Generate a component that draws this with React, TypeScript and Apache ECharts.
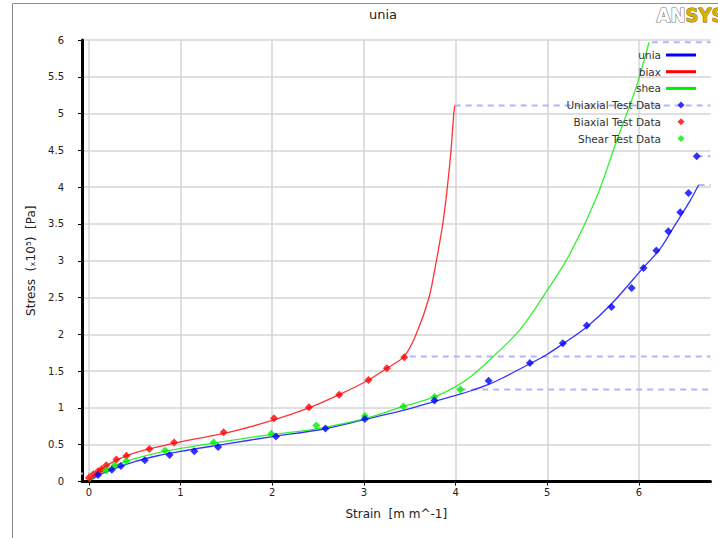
import React, { useEffect, useRef } from "react";
import * as echarts from "echarts";

// Fitted curves (strain, stress x1e5)
const uniaCurve: [number, number][] = [
  [0, 0], [0.1, 0.08], [0.25, 0.16], [0.5, 0.27], [0.75, 0.35], [1.0, 0.41],
  [1.5, 0.51], [2.0, 0.61], [2.5, 0.70], [3.0, 0.84], [3.5, 0.99], [3.77, 1.09],
  [4.0, 1.17], [4.16, 1.23], [4.36, 1.32], [4.5, 1.40], [4.81, 1.60], [5.0, 1.73],
  [5.17, 1.87], [5.43, 2.10], [5.72, 2.44], [6.05, 2.91], [6.23, 3.16], [6.4, 3.50],
  [6.55, 3.80], [6.65, 4.03],
];
const biaxCurve: [number, number][] = [
  [0, 0], [0.05, 0.08], [0.1, 0.14], [0.2, 0.22], [0.3, 0.29], [0.5, 0.39],
  [0.75, 0.47], [1.0, 0.54], [1.5, 0.66], [2.0, 0.83], [2.4, 1.0], [2.73, 1.18],
  [3.05, 1.38], [3.25, 1.54], [3.44, 1.70], [3.57, 2.0], [3.71, 2.5], [3.79, 3.0],
  [3.86, 3.5], [3.91, 4.0], [3.95, 4.5], [3.98, 5.0], [3.99, 5.11],
];
const sheaCurve: [number, number][] = [
  [0, 0], [0.1, 0.1], [0.25, 0.2], [0.5, 0.31], [0.75, 0.39], [1.0, 0.45],
  [1.5, 0.55], [2.0, 0.64], [2.5, 0.72], [3.0, 0.85], [3.43, 1.02], [3.77, 1.15],
  [4.0, 1.29], [4.16, 1.42], [4.37, 1.65], [4.7, 2.06], [4.99, 2.58], [5.25, 3.1],
  [5.54, 3.87], [5.76, 4.64], [5.97, 5.36], [6.11, 5.97],
];

// Test data
const uniaxialData: [number, number][] = [
  [0.1, 0.09], [0.25, 0.16], [0.35, 0.21], [0.61, 0.29], [0.88, 0.36], [1.15, 0.41],
  [1.41, 0.47], [2.04, 0.61], [2.58, 0.72], [3.01, 0.85], [3.77, 1.10], [4.36, 1.37],
  [4.81, 1.61], [5.17, 1.88], [5.43, 2.12], [5.70, 2.37], [5.92, 2.63], [6.05, 2.90],
  [6.19, 3.14], [6.32, 3.40], [6.45, 3.66], [6.54, 3.92], [6.63, 4.42],
];
const biaxialData: [number, number][] = [
  [0.0, 0.05], [0.05, 0.10], [0.1, 0.14], [0.14, 0.17], [0.19, 0.22], [0.30, 0.30],
  [0.41, 0.35], [0.66, 0.44], [0.93, 0.53], [1.47, 0.67], [2.02, 0.86], [2.40, 1.01],
  [2.73, 1.18], [3.05, 1.38], [3.25, 1.54], [3.44, 1.69],
];
const shearData: [number, number][] = [
  [0.19, 0.15], [0.28, 0.22], [0.41, 0.28], [0.83, 0.42], [1.36, 0.53], [1.99, 0.65],
  [2.48, 0.76], [3.01, 0.89], [3.43, 1.02], [3.77, 1.15], [4.05, 1.25],
];

// Dashed extrapolation limits
const limitLevels = [5.97, 5.11, 4.42, 4.03, 1.70, 1.25];
const limitStarts = [6.14, 3.99, 6.63, 6.65, 3.50, 4.05];
const lowLimit: [number, number][] = [[-0.13, 0.11], [0.02, 0.11]];

const xTicks = [0, 1, 2, 3, 4, 5, 6];
const X_MIN = -0.075;
const X_MAX = 6.78;

const FONT = "DejaVu Sans";
const LINE_ICON = "path://M0,0 M30,8 M0,2.5 L30,2.5 L30,5.5 L0,5.5 Z";
const DIAMOND_ICON = "path://M0,0 M30,8 M15,0.5 L18.5,4 L15,7.5 L11.5,4 Z";

export default function App() {
  const ref = useRef<HTMLDivElement>(null);
  useEffect(() => {
    const chart = echarts.init(ref.current!, null, { renderer: "svg" });
    const dashStyle = { color: "#b4b4ff", width: 2, type: [6, 5] as number[] };
    const limitSeries = limitLevels.map((y, i) => ({
      type: "line",
      name: "limit" + i,
      data: [[limitStarts[i], y], [X_MAX, y]],
      symbol: "none",
      silent: true,
      lineStyle: dashStyle,
      z: 1,
    }));
    const curve = (name: string, data: [number, number][], color: string) => ({
      type: "line", name, data, symbol: "none", smooth: 0.3,
      color, lineStyle: { width: 1.3, opacity: 0.8 }, z: 3,
    });
    const dots = (name: string, data: [number, number][], color: string, z: number) => ({
      type: "scatter", name, data, symbol: "diamond", symbolSize: 8, color, z,
    });
    chart.setOption({
      animation: false,
      textStyle: { fontFamily: FONT },
      grid: { left: 82, right: 7.5, top: 40, bottom: 56.5, containLabel: false },
      graphic: [
        { type: "line", shape: { x1: 12.5, y1: 3.5, x2: 718, y2: 3.5 }, style: { stroke: "#8a8a8a", lineWidth: 1 } },
        { type: "line", shape: { x1: 12.5, y1: 3.5, x2: 12.5, y2: 538 }, style: { stroke: "#8a8a8a", lineWidth: 1 } },
        {
          type: "text", left: 369, top: 8,
          style: { text: "unia", fontSize: 13, fontFamily: FONT, fill: "#222", textAlign: "center" },
        },
        {
          type: "text", left: 656, top: 4,
          style: {
            text: "{a|AN}{b|SYS}",
            fontFamily: "DejaVu Sans Condensed",
            rich: {
              a: { fontSize: 20, fontWeight: "bold", fill: "#ffffff", stroke: "#7a7a7a", lineWidth: 1.2, fontFamily: "DejaVu Sans Condensed" },
              b: { fontSize: 20, fontWeight: "bold", fill: "#d8b000", stroke: "#6b5500", lineWidth: 0.8, fontFamily: "DejaVu Sans Condensed" },
            },
          },
        },
      ],
      legend: {
        orient: "vertical",
        right: 17,
        top: 43,
        align: "right",
        itemWidth: 30,
        itemHeight: 8,
        itemGap: 2.7,
        textStyle: { fontSize: 10.5, color: "#333", fontFamily: FONT, lineHeight: 14 },
        data: [
          { name: "unia", icon: LINE_ICON },
          { name: "biax", icon: LINE_ICON },
          { name: "shea", icon: LINE_ICON },
          { name: "Uniaxial Test Data", icon: DIAMOND_ICON },
          { name: "Biaxial Test Data", icon: DIAMOND_ICON },
          { name: "Shear Test Data", icon: DIAMOND_ICON },
        ],
      },
      xAxis: {
        type: "value",
        min: X_MIN,
        max: X_MAX,
        interval: 1,
        name: "Strain  [m m^-1]",
        nameLocation: "middle",
        nameGap: 26,
        nameTextStyle: { fontSize: 12, color: "#222", fontFamily: FONT },
        axisLine: { onZero: false, lineStyle: { color: "#000", width: 3 } },
        axisTick: { show: true, length: 4, customValues: xTicks, lineStyle: { color: "#000", width: 1 } },
        axisLabel: { customValues: xTicks, fontSize: 10, color: "#222", margin: 6, fontFamily: FONT },
        splitLine: { show: true, lineStyle: { color: "#d4d4d4", width: 1.5 } },
      },
      yAxis: {
        type: "value",
        min: 0,
        max: 6,
        interval: 0.5,
        name: "Stress  (ₓ10⁵)  [Pa]",
        nameLocation: "middle",
        nameGap: 44,
        nameTextStyle: { fontSize: 12, color: "#222", fontFamily: FONT },
        axisLine: { onZero: false, lineStyle: { color: "#000", width: 3 } },
        axisTick: { show: true, length: 4, lineStyle: { color: "#000", width: 1 } },
        axisLabel: { fontSize: 10, color: "#222", margin: 18, fontFamily: FONT },
        splitLine: { show: true, lineStyle: { color: "#d4d4d4", width: 1.5 } },
      },
      series: [
        ...limitSeries,
        {
          type: "line", name: "lowLimit", data: lowLimit, symbol: "none", silent: true,
          clip: false, lineStyle: dashStyle, z: 1,
        },
        curve("unia", uniaCurve, "#0000ff"),
        curve("biax", biaxCurve, "#ff0000"),
        curve("shea", sheaCurve, "#00ee00"),
        dots("Biaxial Test Data", biaxialData, "#ff0000", 4),
        dots("Shear Test Data", shearData, "#00ee00", 4),
        dots("Uniaxial Test Data", uniaxialData, "#0000ff", 5),
      ],
    });
    return () => chart.dispose();
  }, []);
  return (
    <div
      ref={ref}
      style={{ position: "absolute", left: 0, top: 0, width: 718, height: 538, background: "#fff" }}
    />
  );
}
